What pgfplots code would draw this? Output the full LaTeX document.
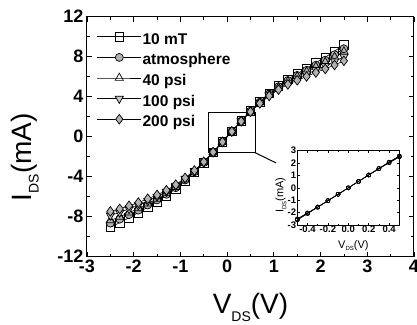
\documentclass[border=0pt]{standalone}
\usepackage{fontspec}
\setmainfont{Liberation Sans}
\usepackage{pgfplots}
\usepackage{pgfplotstable}
\pgfplotsset{compat=1.18}

\pgfplotstableread{
V a b c d e
-2.5 -9.05 -8.64 -8.37 -7.87 -7.47
-2.3 -8.60 -8.24 -8.01 -7.57 -7.22
-2.1 -8.10 -7.79 -7.59 -7.22 -6.91
-1.9 -7.60 -7.34 -7.17 -6.85 -6.59
-1.7 -7.05 -6.83 -6.69 -6.43 -6.21
-1.5 -6.50 -6.32 -6.21 -5.99 -5.82
-1.3 -5.90 -5.76 -5.67 -5.50 -5.36
-1.1 -5.20 -5.10 -5.03 -4.90 -4.80
-0.9 -4.40 -4.33 -4.28 -4.19 -4.12
-0.7 -3.55 -3.51 -3.48 -3.42 -3.38
-0.5 -2.60 -2.58 -2.56 -2.53 -2.51
-0.3 -1.57 -1.56 -1.56 -1.55 -1.54
-0.1 -0.52 -0.52 -0.52 -0.52 -0.52
0.1 0.52 0.52 0.52 0.52 0.52
0.3 1.57 1.56 1.56 1.55 1.54
0.5 2.58 2.56 2.54 2.51 2.49
0.7 3.50 3.46 3.43 3.37 3.33
0.9 4.35 4.28 4.23 4.15 4.08
1.1 5.10 5.00 4.93 4.81 4.71
1.3 5.75 5.62 5.53 5.36 5.23
1.5 6.30 6.13 6.02 5.81 5.64
1.7 6.85 6.64 6.50 6.24 6.03
1.9 7.40 7.15 6.98 6.67 6.42
2.1 7.95 7.65 7.45 7.08 6.78
2.3 8.55 8.20 7.96 7.53 7.17
2.5 9.20 8.79 8.51 8.00 7.59
}\maintable

\pgfplotstableread{
V a b c d e
-0.5 -2.60 -2.58 -2.56 -2.53 -2.50
-0.4 -2.08 -2.07 -2.06 -2.04 -2.02
-0.3 -1.57 -1.56 -1.56 -1.55 -1.54
-0.2 -1.05 -1.04 -1.04 -1.03 -1.03
-0.1 -0.52 -0.52 -0.52 -0.52 -0.52
0.0 0.00 0.00 0.00 0.00 0.00
0.1 0.52 0.52 0.52 0.52 0.52
0.2 1.05 1.04 1.04 1.03 1.03
0.3 1.57 1.56 1.56 1.55 1.54
0.4 2.08 2.07 2.06 2.04 2.02
0.5 2.58 2.56 2.54 2.51 2.49
}\insettable

\begin{document}
\begin{tikzpicture}
\useasboundingbox (-87pt,-67.3pt) rectangle (330pt,256.7pt);
\begin{axis}[
  at={(0pt,0pt)}, anchor=south west,
  scale only axis, width=327pt, height=240pt,
  xmin=-3, xmax=4, ymin=-12, ymax=12,
  xtick={-3,-2,-1,0,1,2,3,4}, ytick={-12,-8,-4,0,4,8,12},
  minor x tick num=1, minor y tick num=1,
  tick align=inside, major tick length=5pt, minor tick length=3pt,
  axis line style={line width=1pt},
  every tick/.style={line width=0.8pt, black},
  /pgf/number format/assume math mode=true,
  tick label style={font=\fontsize{18}{18}\selectfont\bfseries},
  xlabel={V\raisebox{-0.5ex}{\fontsize{14}{14}\selectfont DS}(V)},
  ylabel={I\raisebox{-0.5ex}{\fontsize{14}{14}\selectfont DS}(mA)},
  label style={font=\fontsize{28}{28}\selectfont},
  xlabel style={at={(axis description cs:0.5,-0.238)}, anchor=base},
  ylabel style={at={(axis description cs:-0.19,0.415)}, anchor=center},
  legend cell align=left,
  legend style={at={(axis description cs:0.03,0.94)}, anchor=north west,
    draw=none, fill=none, inner sep=0pt,
    font=\fontsize{15.5}{15.5}\selectfont\bfseries, row sep=3.6pt,
    nodes={inner sep=1pt, text height=12pt, text depth=3pt}},
  legend image code/.code={
    \draw[mark repeat=2,mark phase=2,#1] plot coordinates {(0pt,0.3em) (22pt,0.3em) (44pt,0.3em)};},
]
\addplot[black, line width=0.6pt, mark=square, mark size=4.2pt, mark options={solid, fill=white, line width=0.7pt}] table[x=V,y=a] {\maintable};
\addlegendentry{10 mT}
\addplot[black, line width=0.6pt, mark=*, mark size=4pt, mark options={solid, fill=gray!60, line width=0.7pt}] table[x=V,y=b] {\maintable};
\addlegendentry{atmosphere}
\addplot[black, line width=0.6pt, mark=triangle, mark size=4.8pt, mark options={solid, fill=white, line width=0.7pt}] table[x=V,y=c] {\maintable};
\addlegendentry{40 psi}
\addplot[black, line width=0.6pt, mark=triangle*, mark size=4.8pt, mark options={solid, fill=gray!45, rotate=180, line width=0.7pt}] table[x=V,y=d] {\maintable};
\addlegendentry{100 psi}
\addplot[black, line width=0.6pt, mark=diamond*, mark size=4.8pt, mark options={solid, fill=gray!60, line width=0.7pt}] table[x=V,y=e] {\maintable};
\addlegendentry{200 psi}
\draw[line width=1pt] (axis cs:-0.4,-1.6) rectangle (axis cs:0.6,2.4);
\draw[line width=1pt] (axis cs:0.6,-1.6) -- (axis cs:1.05,-2.63);
\end{axis}

\begin{axis}[
  at={(210.3pt,31.7pt)}, anchor=south west,
  scale only axis, width=102pt, height=74.3pt,
  xmin=-0.5, xmax=0.5, ymin=-3, ymax=3,
  xtick={-0.4,-0.2,0,0.2,0.4},
  xticklabels={-0.4,-0.2,0.0,0.2,0.4},
  ytick={-3,-2,-1,0,1,2,3},
  minor x tick num=1,
  tick align=inside, major tick length=2.5pt, minor tick length=1.5pt,
  axis line style={line width=0.8pt},
  every tick/.style={line width=0.6pt, black},
  axis background/.style={fill=white},
  /pgf/number format/assume math mode=true,
  tick label style={font=\fontsize{9.5}{9.5}\selectfont\bfseries, inner sep=1pt},
  xlabel={V\raisebox{-0.5ex}{\fontsize{6}{6}\selectfont DS}(V)},
  ylabel={I\raisebox{-0.5ex}{\fontsize{6}{6}\selectfont DS}(mA)},
  label style={font=\fontsize{11}{11}\selectfont},
  xlabel style={at={(axis description cs:0.55,-0.31)}, anchor=base},
  ylabel style={at={(axis description cs:-0.16,0.40)}, anchor=center},
]
\addplot[black, line width=0.5pt, mark=o, mark size=2pt, mark options={solid, fill=white}] table[x=V,y=a] {\insettable};
\addplot[black, line width=0.5pt, mark=o, mark size=2pt, mark options={solid, fill=white}] table[x=V,y=b] {\insettable};
\addplot[black, line width=0.5pt, mark=o, mark size=2pt, mark options={solid, fill=white}] table[x=V,y=c] {\insettable};
\addplot[black, line width=0.5pt, mark=o, mark size=2pt, mark options={solid, fill=white}] table[x=V,y=d] {\insettable};
\addplot[black, line width=0.5pt, mark=o, mark size=2pt, mark options={solid, fill=white}] table[x=V,y=e] {\insettable};
\end{axis}
\end{tikzpicture}
\end{document}
